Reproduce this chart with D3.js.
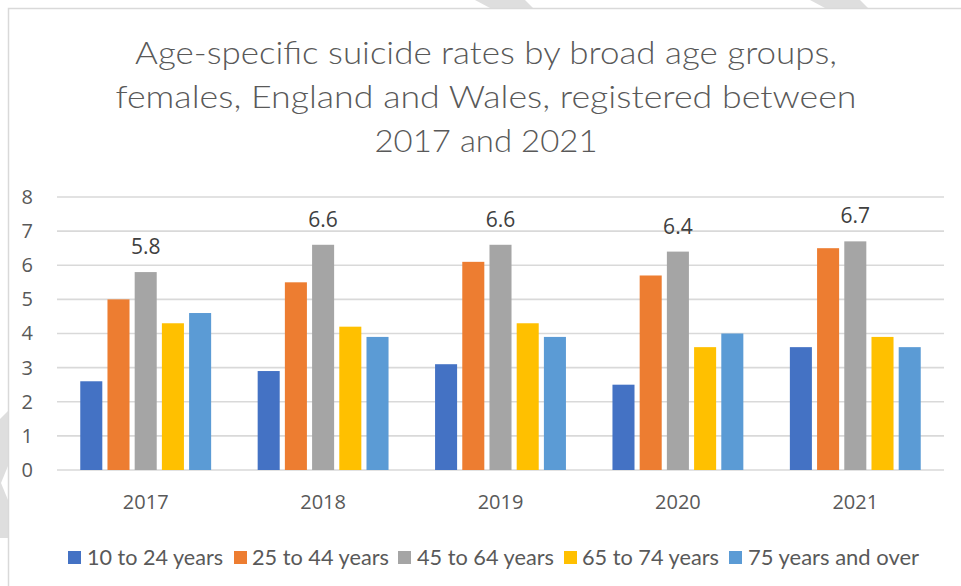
<!DOCTYPE html>
<html>
<head>
<meta charset="utf-8">
<script src="https://cdn.jsdelivr.net/npm/d3@7"></script>
<style>
  html, body { margin: 0; padding: 0; background: #ffffff; }
  svg { display: block; }
</style>
</head>
<body>
<svg id="chart" width="961" height="586"></svg>
<script>
// Female age-specific suicide rates (per 100,000), England and Wales
const years = ["2017", "2018", "2019", "2020", "2021"];
const seriesNames = ["10 to 24 years", "25 to 44 years", "45 to 64 years", "65 to 74 years", "75 years and over"];
const age10to24 = [2.6, 2.9, 3.1, 2.5, 3.6];
const age25to44 = [5.0, 5.5, 6.1, 5.7, 6.5];
const age45to64 = [5.8, 6.6, 6.6, 6.4, 6.7];
const age65to74 = [4.3, 4.2, 4.3, 3.6, 3.9];
const age75plus = [4.6, 3.9, 3.9, 4.0, 3.6];
const yTicks = [0, 1, 2, 3, 4, 5, 6, 7, 8];
const titleLines = [
  "Age-specific suicide rates by broad age groups,",
  "females, England and Wales, registered between",
  "2017 and 2021"
];
const colors = ["#4472C4", "#ED7D31", "#A5A5A5", "#FFC000", "#5B9BD5"];
// Only the 45 to 64 series carries value labels
const labelledSeries = "45 to 64 years";

const seriesValues = [age10to24, age25to44, age45to64, age65to74, age75plus];
const rows = years.map((yr, i) => ({
  year: yr,
  values: seriesNames.map((s, k) => ({ series: s, value: seriesValues[k][i] }))
}));

const svg = d3.select("#chart");
const textColor = "#595959";

// page decoration: faint diagonal bands behind the chart frame
const deco = svg.append("g").attr("fill", "#dedede");
deco.append("polygon").attr("points", "475,0 525,0 533,8 490,8");
deco.append("polygon").attr("points", "810,0 860,0 868,8 825,8");
deco.append("polygon").attr("points", "0,419 8,411 8,538 0,538");
svg.append("polygon").attr("points", "8,466 1,483 8,500").attr("fill", "#ffffff");

// chart frame
svg.append("path")
  .attr("d", "M8.5,586 V8.5 H961")
  .attr("fill", "none")
  .attr("stroke", "#d9d9d9")
  .attr("stroke-width", 1.5);

// plot area
const plot = { left: 57, right: 944, top: 197, bottom: 470 };

const x = d3.scaleBand().domain(years).range([plot.left, plot.right]).padding(0);
const xInner = d3.scaleBand().domain(seriesNames)
  .range([0, x.bandwidth()])
  .paddingInner(0.19)
  .paddingOuter(0.855);
const y = d3.scaleLinear().domain([0, 8]).range([plot.bottom, plot.top]);
const color = d3.scaleOrdinal().domain(seriesNames).range(colors);

// horizontal gridlines
svg.append("g")
  .selectAll("line")
  .data(yTicks)
  .join("line")
  .attr("x1", plot.left).attr("x2", plot.right)
  .attr("y1", d => y(d)).attr("y2", d => y(d))
  .attr("stroke", "#d9d9d9")
  .attr("stroke-width", 1.6);

// y axis labels
const yAxis = svg.append("g")
  .attr("transform", `translate(${plot.left - 24},0)`)
  .call(d3.axisLeft(y).tickValues(yTicks).tickSize(0).tickPadding(0).tickFormat(d3.format("d")));
yAxis.select(".domain").remove();
yAxis.selectAll("text")
  .attr("fill", textColor)
  .attr("font-family", "'Open Sans', sans-serif")
  .attr("font-size", 20);

// x axis labels
const xAxis = svg.append("g")
  .attr("transform", `translate(0,${plot.bottom + 25})`)
  .call(d3.axisBottom(x).tickSize(0).tickPadding(0));
xAxis.select(".domain").remove();
xAxis.selectAll("text")
  .attr("fill", textColor)
  .attr("font-family", "'Open Sans', sans-serif")
  .attr("font-size", 20);

// bars
const groups = svg.append("g")
  .selectAll("g")
  .data(rows)
  .join("g")
  .attr("transform", d => `translate(${x(d.year)},0)`);

groups.selectAll("rect")
  .data(d => d.values)
  .join("rect")
  .attr("x", d => xInner(d.series))
  .attr("width", xInner.bandwidth())
  .attr("y", d => y(d.value))
  .attr("height", d => y(0) - y(d.value))
  .attr("fill", d => color(d.series));

// value labels
groups.selectAll("text.value")
  .data(d => d.values.filter(v => v.series === labelledSeries))
  .join("text")
  .attr("class", "value")
  .attr("x", d => xInner(d.series) + xInner.bandwidth() / 2)
  .attr("y", d => y(d.value) - 18)
  .attr("text-anchor", "middle")
  .attr("fill", "#404040")
  .attr("font-family", "'Open Sans', sans-serif")
  .attr("font-size", 21)
  .text(d => d.value.toFixed(1));

// title: a narrow, tall face, each line set to its width
const titleWidths = [702, 741, 223];
svg.append("g")
  .selectAll("text")
  .data(titleLines)
  .join("text")
  .attr("x", 486)
  .attr("y", (d, i) => 64 + i * 44)
  .attr("text-anchor", "middle")
  .attr("fill", textColor)
  .attr("font-family", "Lato, sans-serif")
  .attr("font-weight", 300)
  .attr("font-size", 31)
  .attr("textLength", (d, i) => titleWidths[i])
  .attr("lengthAdjust", "spacingAndGlyphs")
  .text(d => d);

// legend
const legendItems = [
  { name: seriesNames[0], sx: 68, tx: 87, w: 136 },
  { name: seriesNames[1], sx: 234, tx: 252, w: 137 },
  { name: seriesNames[2], sx: 398, tx: 417, w: 137 },
  { name: seriesNames[3], sx: 564, tx: 582, w: 137 },
  { name: seriesNames[4], sx: 729, tx: 748, w: 171 }
];
const legend = svg.append("g");
legend.selectAll("rect")
  .data(legendItems)
  .join("rect")
  .attr("x", d => d.sx).attr("y", 551)
  .attr("width", 13).attr("height", 13)
  .attr("fill", d => color(d.name));
legend.selectAll("text")
  .data(legendItems)
  .join("text")
  .attr("x", d => d.tx).attr("y", 565)
  .attr("fill", textColor)
  .attr("font-family", "Lato, sans-serif")
  .attr("font-size", 21)
  .attr("textLength", d => d.w)
  .attr("lengthAdjust", "spacingAndGlyphs")
  .text(d => d.name);
</script>
</body>
</html>
